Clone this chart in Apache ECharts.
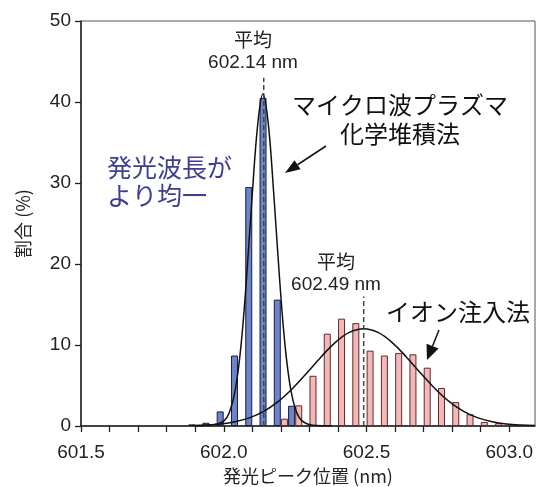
<!DOCTYPE html>
<html>
<head>
<meta charset="utf-8">
<script src="https://cdn.jsdelivr.net/npm/echarts@6/dist/echarts.min.js"></script>
<style>
html,body{margin:0;padding:0;background:#fff;}
#chart{width:537px;height:487px;}
</style>
</head>
<body>
<div id="chart"></div>
<script>
// ---- data ----
const cvdCenters = [601.8875, 601.9375, 601.9875, 602.0375, 602.0875, 602.1375, 602.1875, 602.2375];
const cvdValues  = [0.2, 0.4, 1.8, 8.7, 29.5, 40.5, 15.6, 2.5];

const ionCenters = [602.2125, 602.2625, 602.3125, 602.3625, 602.4125, 602.4625, 602.5125, 602.5625,
                    602.6125, 602.6625, 602.7125, 602.7625, 602.8125, 602.8625, 602.9125, 602.9625, 603.0125];
const ionValues  = [0.9, 2.55, 6.2, 11.4, 13.25, 12.7, 9.3, 8.7, 9.0, 8.85, 7.2, 4.7, 2.95, 1.45, 0.5, 0.35, 0.2];

// fitted curves, points
const cvdCurveX = [601.90, 601.97, 602.00, 602.02, 602.04, 602.06, 602.08, 602.10, 602.12, 602.137,
                   602.155, 602.175, 602.195, 602.215, 602.235, 602.255, 602.275, 602.31, 602.38];
const cvdCurveY = [0, 0.2, 0.6, 1.7, 4.4, 9.8, 18.4, 28.7, 37.6, 41,
                   37.6, 28.7, 18.4, 9.8, 4.4, 1.7, 0.6, 0.1, 0];

const ionCurveX = [601.89, 601.94, 601.99, 602.04, 602.09, 602.14, 602.19, 602.24, 602.29, 602.34, 602.39, 602.44,
                   602.49, 602.54, 602.59, 602.64, 602.69, 602.74, 602.79, 602.84, 602.89, 602.94, 602.99, 603.04, 603.09];
const ionCurveY = [0.05, 0.11, 0.25, 0.53, 1.0, 1.8, 3.0, 4.6, 6.5, 8.5, 10.3, 11.55,
                   12, 11.55, 10.3, 8.5, 6.5, 4.6, 3.0, 1.8, 1.0, 0.53, 0.25, 0.11, 0.05];

const meanX   = [602.14, 602.49];
const meanTop = [43, 16];

const yTicks = [0, 10, 20, 30, 40, 50];
const xTickLabels = ['601.5', '602.0', '602.5', '603.0'];

// ---- chart ----
const FONT_LAT = '"Liberation Sans", "Noto Sans CJK JP", sans-serif';
const FONT_JP = '"Noto Sans CJK JP", "Liberation Sans", sans-serif';
const zip = (a, b) => a.map((v, i) => [v, b[i]]);

const chart = echarts.init(document.getElementById('chart'), null, {renderer: 'canvas'});

function arrow(x1, y1, tipX, tipY, headLen, halfW) {
  const dx = tipX - x1, dy = tipY - y1, L = Math.hypot(dx, dy);
  const ux = dx / L, uy = dy / L, nx = -uy, ny = ux;
  const bx = tipX - ux * headLen, by = tipY - uy * headLen;
  return [
    {type: 'line', shape: {x1: x1, y1: y1, x2: bx, y2: by}, style: {stroke: '#111', lineWidth: 1.5}, z: 10},
    {type: 'polygon', shape: {points: [[tipX, tipY], [bx + nx * halfW, by + ny * halfW], [bx - nx * halfW, by - ny * halfW]]},
     style: {fill: '#111'}, z: 10}
  ];
}

const option = {
  animation: false,
  backgroundColor: '#fff',
  grid: {left: 81, right: 2, top: 21, bottom: 61, show: true, borderColor: '#555', borderWidth: 1,
         backgroundColor: 'transparent', containLabel: false, outerBoundsMode: 'none'},
  xAxis: {
    type: 'value', min: 601.5, max: 603.09, interval: 0.1,
    name: '発光ピーク位置 (nm)', nameLocation: 'middle', nameGap: 40,
    nameTextStyle: {fontFamily: FONT_JP, fontSize: 18, color: '#222'},
    axisLine: {show: true, onZero: false, lineStyle: {color: '#222', width: 1.5}},
    axisTick: {show: true, length: 6, lineStyle: {color: '#222', width: 1.3}},
    axisLabel: {
      fontFamily: FONT_LAT, fontSize: 19, color: '#222', margin: 17,
      showMaxLabel: false,
      formatter: function (v) {
        const k = v * 2;
        if (Math.abs(k - Math.round(k)) < 1e-6) {
          const s = v.toFixed(1);
          return xTickLabels.indexOf(s) >= 0 ? s : '';
        }
        return '';
      }
    },
    splitLine: {show: false}
  },
  yAxis: {
    type: 'value', min: yTicks[0], max: yTicks[yTicks.length - 1], interval: 10,
    name: '割合 (%)', nameLocation: 'middle', nameGap: 49, nameRotate: 90,
    nameTextStyle: {fontFamily: FONT_JP, fontSize: 18, color: '#222'},
    axisLine: {show: true, lineStyle: {color: '#222', width: 1.5}},
    axisTick: {show: true, length: 6, lineStyle: {color: '#222', width: 1.3}},
    axisLabel: {fontFamily: FONT_LAT, fontSize: 19, color: '#222', margin: 10},
    splitLine: {show: false}
  },
  series: [
    {
      type: 'bar', name: 'ion', data: zip(ionCenters, ionValues), barWidth: 7, barGap: '-100%',
      itemStyle: {color: '#f5b8b8', borderColor: '#5a2c2c', borderWidth: 1}
    },
    {
      type: 'bar', name: 'cvd', data: zip(cvdCenters, cvdValues), barWidth: 7, barGap: '-100%',
      itemStyle: {color: '#6a85c8', borderColor: '#1c1c40', borderWidth: 1}
    },
    {
      type: 'line', data: zip(ionCurveX, ionCurveY), smooth: 0.4, showSymbol: false, z: 4,
      lineStyle: {color: '#111', width: 1.5}
    },
    {
      type: 'line', data: zip(cvdCurveX, cvdCurveY), smooth: 0.4, showSymbol: false, z: 4,
      lineStyle: {color: '#111', width: 1.5}
    },
    {
      type: 'line', data: [[meanX[0], 0], [meanX[0], meanTop[0]]], showSymbol: false, z: 5,
      lineStyle: {color: '#444', width: 1.5, type: [5, 3]}
    },
    {
      type: 'line', data: [[meanX[1], 0], [meanX[1], meanTop[1]]], showSymbol: false, z: 5,
      lineStyle: {color: '#444', width: 1.5, type: [5, 3]}
    }
  ],
  graphic: [
    {type: 'text', z: 10, style: {text: '平均\n602.14 nm', x: 253, y: 52, align: 'center', verticalAlign: 'middle',
      font: '19px ' + FONT_LAT, lineHeight: 21, fill: '#222'}},
    {type: 'text', z: 10, style: {text: '平均\n602.49 nm', x: 336, y: 274, align: 'center', verticalAlign: 'middle',
      font: '19px ' + FONT_LAT, lineHeight: 21, fill: '#222'}},
    {type: 'text', z: 10, style: {text: 'マイクロ波プラズマ\n化学堆積法', x: 400, y: 119, align: 'center', verticalAlign: 'middle',
      font: '24px ' + FONT_JP, lineHeight: 29, fill: '#111'}},
    {type: 'text', z: 10, style: {text: '発光波長が\nより均一', x: 107, y: 181, align: 'left', verticalAlign: 'middle',
      font: '25px ' + FONT_JP, lineHeight: 28, fill: '#3d3d92'}},
    {type: 'text', z: 10, style: {text: 'イオン注入法', x: 458, y: 312, align: 'center', verticalAlign: 'middle',
      font: '24px ' + FONT_JP, fill: '#111'}}
  ].concat(arrow(326, 146, 285, 173, 15, 5.5)).concat(arrow(439, 330, 427, 360, 15, 6.5))
};

chart.setOption(option);
</script>
</body>
</html>
